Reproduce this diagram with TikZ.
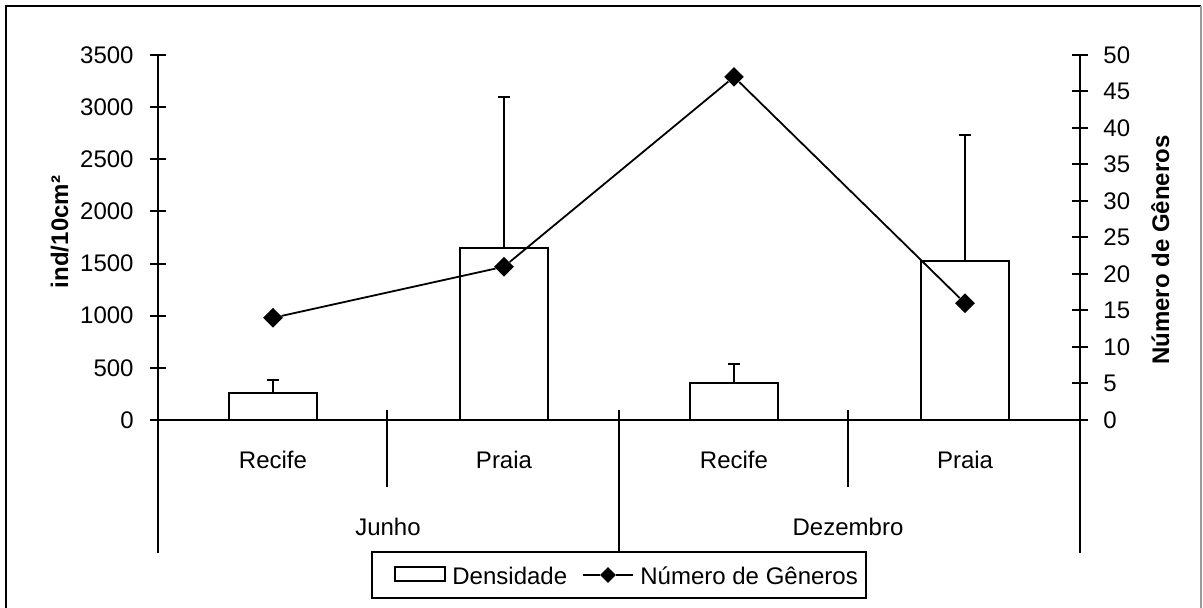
\documentclass[tikz,border=0pt]{standalone}
\usepackage{fontspec}
\setmainfont{Liberation Sans}
\usetikzlibrary{shapes, positioning}

\begin{document}
\begin{tikzpicture}[x=0.5pt, y=-0.5pt, font=\fontsize{12}{14}\selectfont,
    axis/.style={line width=1pt},
    bar/.style={draw, line width=1pt, fill=white},
    gmark/.style={diamond, fill=black, inner sep=0pt, minimum width=10pt, minimum height=10pt},
    ticklab/.style={inner sep=0pt},
    title/.style={font=\fontsize{12}{14}\selectfont\bfseries, rotate=90, inner sep=0pt}]

\useasboundingbox (0,0) rectangle (1203,608);
% Frame (cut off at the bottom)
\draw[line width=1pt] (6,608) -- (6,6) -- (1201,6);
\draw[line width=0.6pt, black!40] (1201,6) -- (1201,608);

% Axes
\draw[axis] (158,55) -- (158,553);
\draw[axis] (1080,55) -- (1080,553);
\draw[axis] (150,420) -- (1088,420);
\draw[axis] (387,410) -- (387,487);
\draw[axis] (619,410) -- (619,553);
\draw[axis] (848,410) -- (848,487);

\foreach \v in {0,500,...,3500} {
    \pgfmathsetmacro\yy{420-\v*0.104286}
    \draw[axis] (150,\yy) -- (166,\yy);
    \node[ticklab, anchor=east] (l\v) at (134,\yy) {\v};
}
\foreach \g in {0,5,...,50} {
    \pgfmathsetmacro\yy{420-\g*7.3}
    \draw[axis] (1072,\yy) -- (1088,\yy);
    \node[ticklab, anchor=west] (r\g) at (1103,\yy) {\g};
}

\node[title, anchor=base] (ytitle) at (68,232) {ind/10cm²};
\node[title, anchor=base] (gtitle) at (1169,250) {Número de Gêneros};

% Bars with error bars
\foreach \cx/\v/\e [count=\i] in {273/260/383, 504/1650/3100, 734/355/537, 965/1525/2733} {
    \pgfmathsetmacro\top{420-\v*0.104286}
    \pgfmathsetmacro\etop{420-\e*0.104286}
    \draw[bar] (\cx-44,420) rectangle (\cx+44,\top);
    \coordinate (b\i) at (\cx,\top);
    \coordinate (e\i) at (\cx,\etop);
    \draw[line width=1pt] (b\i) -- (e\i);
    \draw[line width=1pt] ([xshift=-3pt]e\i) -- ([xshift=3pt]e\i);
}

% Categories
\node (c1) at (273,460) {Recife};
\node (c2) at (504,460) {Praia};
\node (c3) at (734,460) {Recife};
\node (c4) at (965,460) {Praia};
\node (m1) at (388,527) {Junho};
\node (m2) at (848,527) {Dezembro};

% Numero de generos
\node[gmark] (g1) at (273,317.8) {};
\node[gmark] (g2) at (504,266.7) {};
\node[gmark] (g3) at (734,76.9) {};
\node[gmark] (g4) at (965,303.2) {};
\draw[line width=0.9pt] (g1) -- (g2) -- (g3) -- (g4);

% Legend
\draw[line width=1pt, fill=white] (372,552) rectangle (866,598);
\draw[line width=1pt] (395,567) rectangle (445,581);
\node[ticklab, anchor=base west] (ldens) at (452,584) {Densidade};
\coordinate (la) at (583,575);
\coordinate (lb) at (633,575);
\node[gmark, minimum width=8pt, minimum height=8pt] (lmark) at (608,575) {};
\draw[line width=0.9pt] (la) -- (lmark) -- (lb);
\node[ticklab, anchor=base west] (lgen) at (640,584) {Número de Gêneros};

\end{tikzpicture}
\end{document}
